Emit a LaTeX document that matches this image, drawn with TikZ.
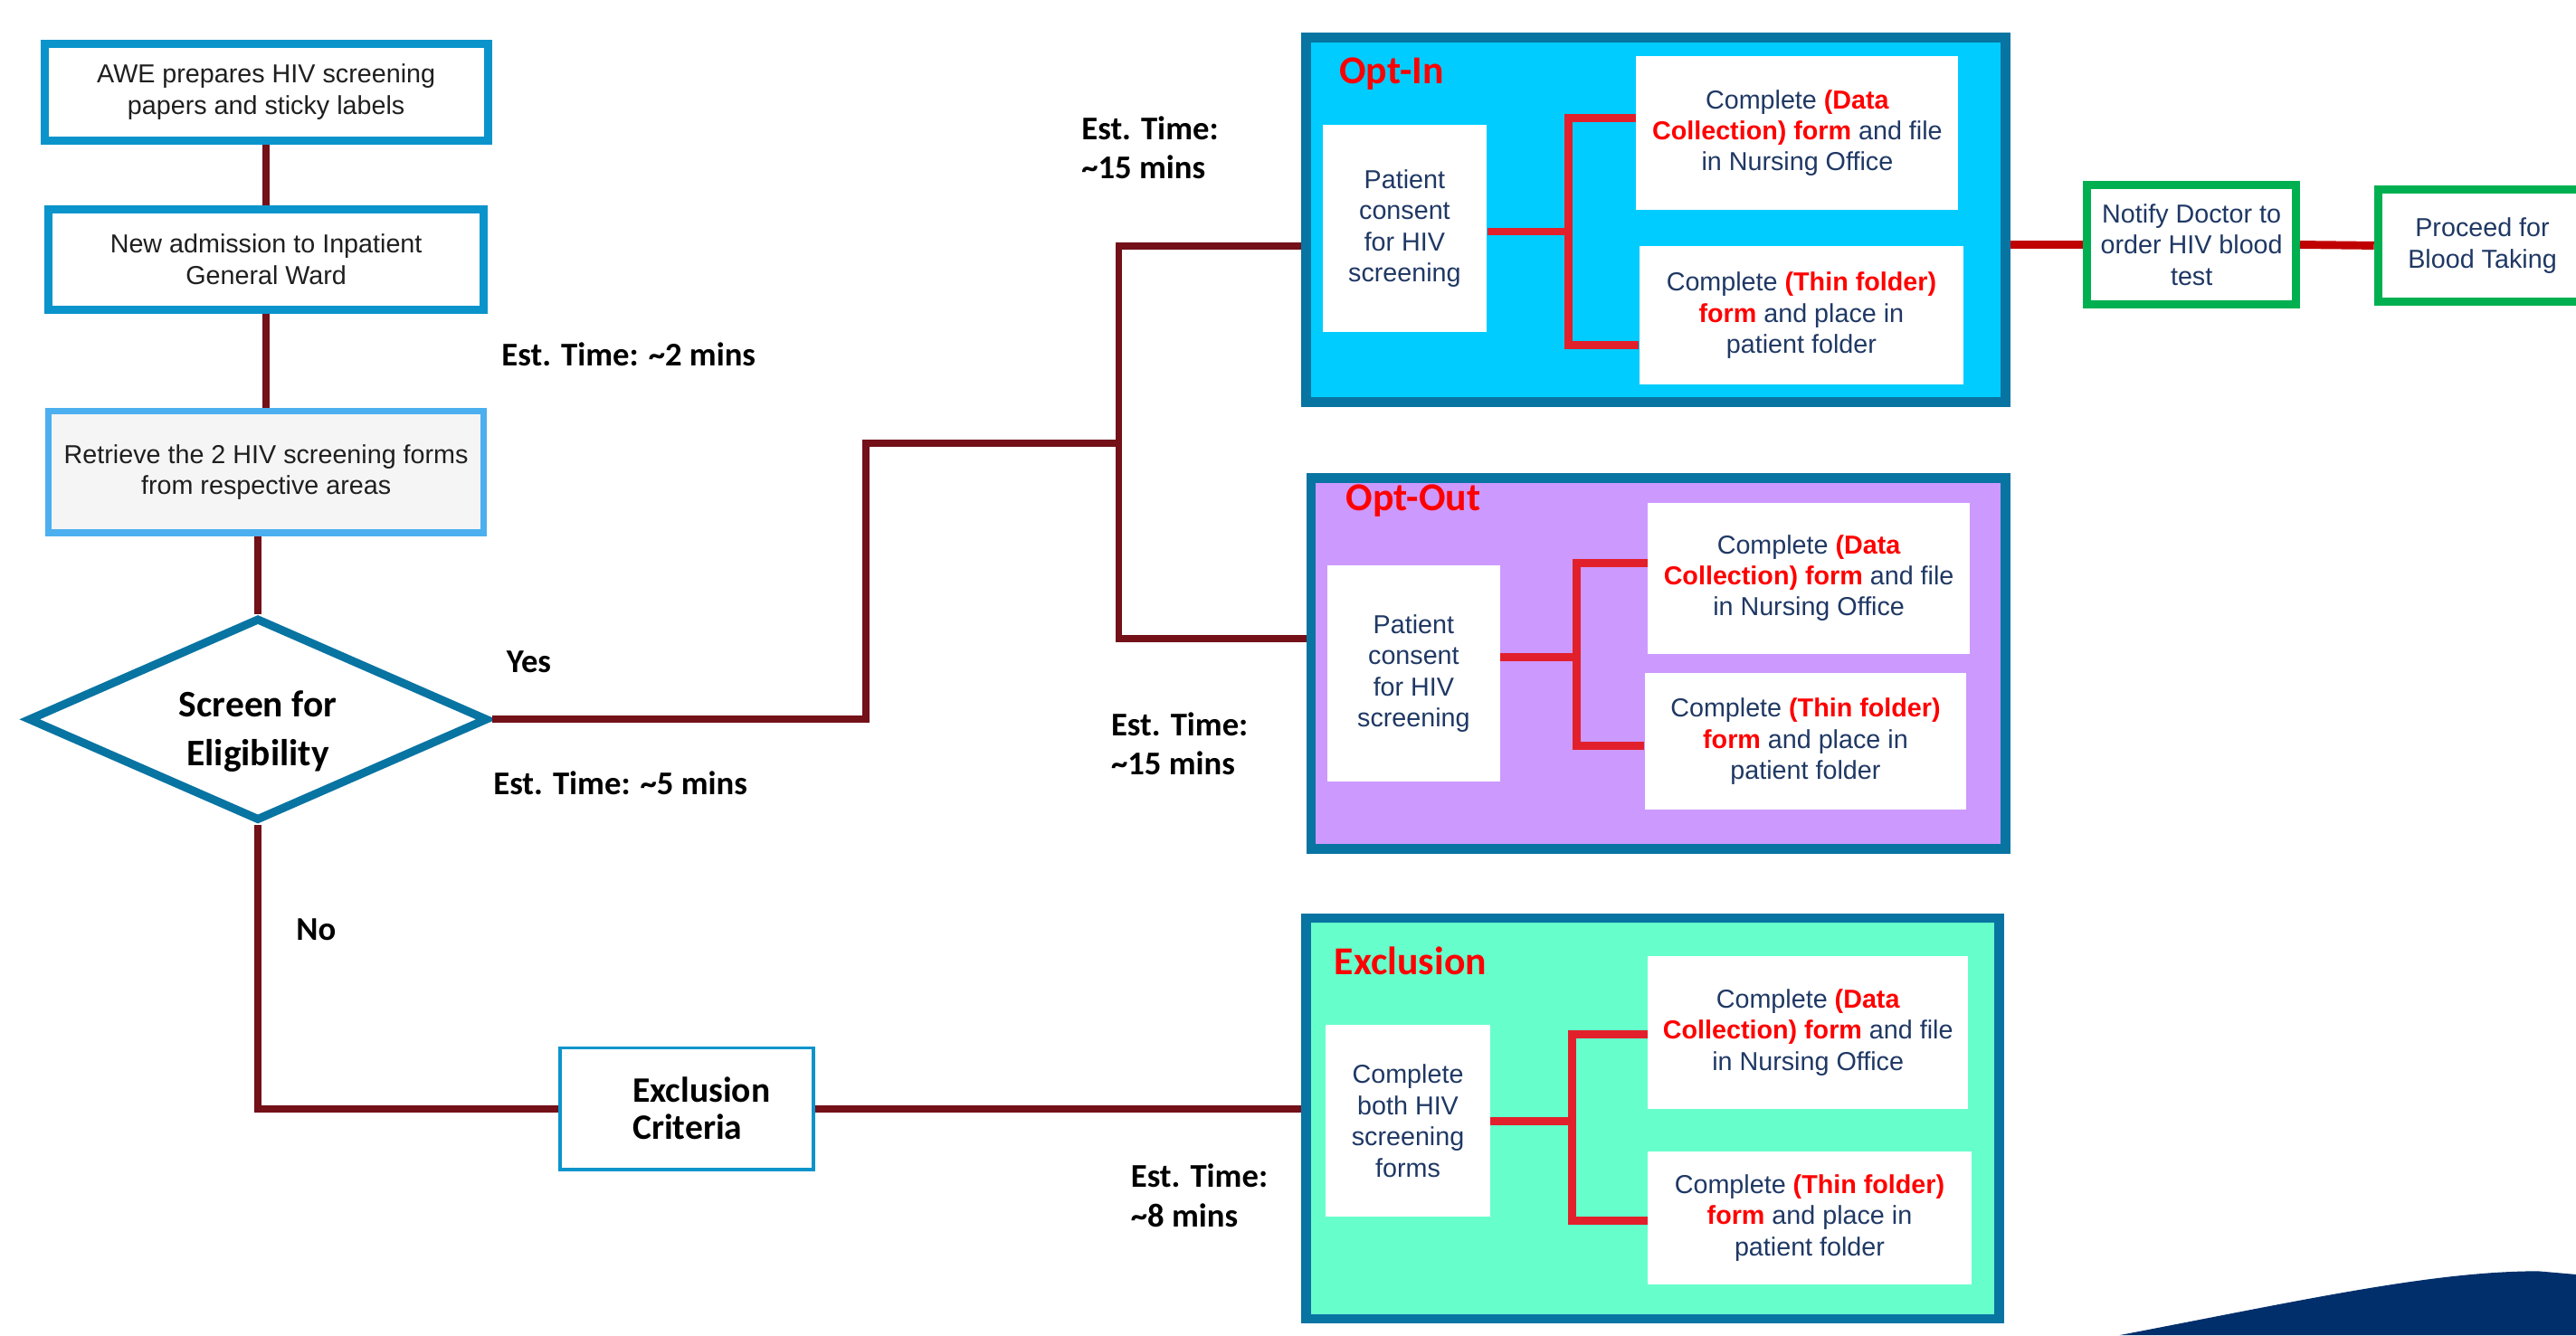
\documentclass[tikz,border=0pt]{standalone}
\usepackage{fontspec}
\setmainfont{Liberation Sans}
\newfontfamily\calfont{Carlito}
\usetikzlibrary{positioning,shapes.geometric}

\definecolor{wine}{HTML}{731018}
\definecolor{brick}{HTML}{E2202B}
\definecolor{linkred}{HTML}{C00000}
\definecolor{boxblue}{HTML}{0A94CB}
\definecolor{paleblue}{HTML}{4CAFEF}
\definecolor{deepblue}{HTML}{0874A2}
\definecolor{navytext}{HTML}{1F3864}
\definecolor{inblue}{HTML}{00CCFF}
\definecolor{outlilac}{HTML}{CC99FF}
\definecolor{exmint}{HTML}{66FFCC}
\definecolor{okgreen}{HTML}{00B050}
\definecolor{swooshblue}{HTML}{002F6C}
\definecolor{greyfill}{HTML}{F5F5F5}

\newcommand{\redtxt}[1]{{\color{red}\bfseries #1}}

\begin{document}
\begin{tikzpicture}[x=0.02cm, y=-0.02cm, node distance=0.74cm,
    flowbox/.style={draw=boxblue, line width=0.1cm, fill=white, align=center, text=black!88, font=\fontsize{9}{10.8}\selectfont, inner sep=0pt},
    panel/.style={draw=deepblue, line width=0.12cm, inner sep=0pt},
    card/.style={fill=white, align=center, text=navytext, font=\fontsize{9}{10.8}\selectfont, inner sep=0pt},
    greenbox/.style={draw=okgreen, line width=0.1cm, fill=white, align=center, text=navytext, font=\fontsize{9}{10.8}\selectfont, inner sep=0pt},
    paneltitle/.style={anchor=west, text=red, font=\calfont\bfseries\fontsize{13.7}{16}\selectfont, inner sep=0pt},
    timelabel/.style={anchor=west, align=left, font=\calfont\bfseries\fontsize{11.5}{13.6}\selectfont, inner sep=0pt},
    conn/.style={draw=wine, line width=2.5pt},
    bracket/.style={draw=brick, line width=2.8pt},
    redlink/.style={draw=linkred, line width=2.8pt}]
    \useasboundingbox (0,0) rectangle (1568,813);
    \clip (0,0) rectangle (1568,813);

    \node[flowbox, minimum width=5.4cm, minimum height=1.18cm] (awe) at (162,56) {AWE prepares HIV screening\\papers and sticky labels};
    \node[flowbox, minimum width=5.3cm, minimum height=1.22cm, below=0.74cm of awe] (admit) {New admission to Inpatient\\General Ward};
    \node[flowbox, draw=paleblue, line width=0.08cm, fill=greyfill, minimum width=5.3cm, minimum height=1.48cm, below=1.15cm of admit] (fetch) {Retrieve the 2 HIV screening forms\\from respective areas};
    \node[diamond, draw=deepblue, line width=0.1cm, aspect=2.2, minimum width=5.6cm, minimum height=2.47cm, inner sep=0pt,
        label={[align=center, yshift=-0.15cm, font=\calfont\bfseries\fontsize{13}{17}\selectfont]center:Screen for\\Eligibility}] (dia) at (157,438) {};
    \node[draw=boxblue, line width=1.2pt, minimum width=3.08cm, minimum height=1.48cm, align=left, font=\calfont\bfseries\fontsize{12.4}{12.8}\selectfont] (crit) at (418,675) {\hspace*{0.36cm}Exclusion\\\hspace*{0.36cm}Criteria};

    \node[panel, fill=inblue, minimum width=8.52cm, minimum height=4.44cm] (optin) at (1008,134) {};
    \node[panel, fill=outlilac, minimum width=8.46cm, minimum height=4.52cm] (optout) at (1009.5,404) {};
    \node[panel, fill=exmint, minimum width=8.44cm, minimum height=4.88cm] (exclu) at (1006,681) {};
    \node[paneltitle] (optintitle) at (815,45) {Opt-In};
    \node[paneltitle] (optouttitle) at (819,305) {Opt-Out};
    \node[paneltitle] (exclutitle) at (812,585) {Exclusion};

    \node[card, minimum width=2cm, minimum height=2.52cm] (consentA) at (855,139) {Patient\\consent\\for HIV\\screening};
    \node[card, minimum width=3.92cm, minimum height=1.88cm] (dataA) at (1094,81) {Complete \redtxt{(Data}\\\redtxt{Collection) form} and file\\in Nursing Office};
    \node[card, minimum width=3.94cm, minimum height=1.68cm] (thinA) at (1096.5,192) {Complete \redtxt{(Thin folder)}\\\redtxt{form} and place in\\patient folder};

    \node[card, minimum width=2.1cm, minimum height=2.64cm] (consentB) at (860.5,410) {Patient\\consent\\for HIV\\screening};
    \node[card, minimum width=3.92cm, minimum height=1.84cm] (dataB) at (1101,352) {Complete \redtxt{(Data}\\\redtxt{Collection) form} and file\\in Nursing Office};
    \node[card, minimum width=3.92cm, minimum height=1.66cm] (thinB) at (1099,451.5) {Complete \redtxt{(Thin folder)}\\\redtxt{form} and place in\\patient folder};

    \node[card, minimum width=2cm, minimum height=2.34cm] (bothC) at (857,682.5) {Complete\\both HIV\\screening\\forms};
    \node[card, minimum width=3.9cm, minimum height=1.86cm] (dataC) at (1100.5,628.5) {Complete \redtxt{(Data}\\\redtxt{Collection) form} and file\\in Nursing Office};
    \node[card, minimum width=3.94cm, minimum height=1.62cm] (thinC) at (1101.5,741.5) {Complete \redtxt{(Thin folder)}\\\redtxt{form} and place in\\patient folder};

    \node[greenbox, minimum width=2.54cm, minimum height=1.46cm] (notify) at (1334,149) {Notify Doctor to\\order HIV blood\\test};
    \node[greenbox, minimum width=2.54cm, minimum height=1.36cm] (proceed) at (1511,149.5) {Proceed for\\Blood Taking};

    \node[timelabel] (esttwo) at (305,216) {Est. Time: \textasciitilde2 mins};
    \node[timelabel] (yes) at (308,403) {Yes};
    \node[timelabel] (estfive) at (300,477) {Est. Time: \textasciitilde5 mins};
    \node[timelabel] (no) at (180,566) {No};
    \node[timelabel] (estin) at (658,90) {Est. Time:\\\textasciitilde15 mins};
    \node[timelabel] (estout) at (676,453) {Est. Time:\\\textasciitilde15 mins};
    \node[timelabel] (estex) at (688,728) {Est. Time:\\\textasciitilde8 mins};

    \draw[conn] (awe) -- (admit);
    \draw[conn] (admit) -- (fetch);
    \draw[conn] (fetch.south -| dia.north) -- (dia.north);
    \coordinate (split) at (681,270);
    \draw[conn] (dia.east) -| (527,270) -- (split);
    \draw[conn] ([yshift=-0.32cm]optin.west) -| (split) |- ([yshift=0.3cm]optout.west);
    \draw[conn] (dia.south) |- (crit.west);
    \draw[conn] (crit.east) -- (crit.east -| exclu.west);

    \draw[bracket] ([yshift=-0.04cm]consentA.east) -- ++(50,0);
    \draw[bracket] ([yshift=0.18cm]dataA.west) -- ++(-41,0) |- ([yshift=-0.36cm]thinA.west);
    \draw[bracket] ([yshift=0.2cm]consentB.east) -- ++(47,0);
    \draw[bracket] ([yshift=0.18cm]dataB.west) -- ++(-43,0) |- ([yshift=-0.05cm]thinB.west);
    \draw[bracket] (bothC.east) -- ++(50,0);
    \draw[bracket] ([yshift=-0.03cm]dataC.west) -- ++(-46,0) |- ([yshift=-0.03cm]thinC.west);

    \draw[redlink] (optin.east |- notify.west) -- (notify.west);
    \draw[redlink] (notify.east) -- (proceed.west);

    \fill[swooshblue] (1290,813) .. controls (1400,792) and (1480,774) .. (1545,774) -- (1568,776) -- (1568,813) -- cycle;
\end{tikzpicture}
\end{document}
